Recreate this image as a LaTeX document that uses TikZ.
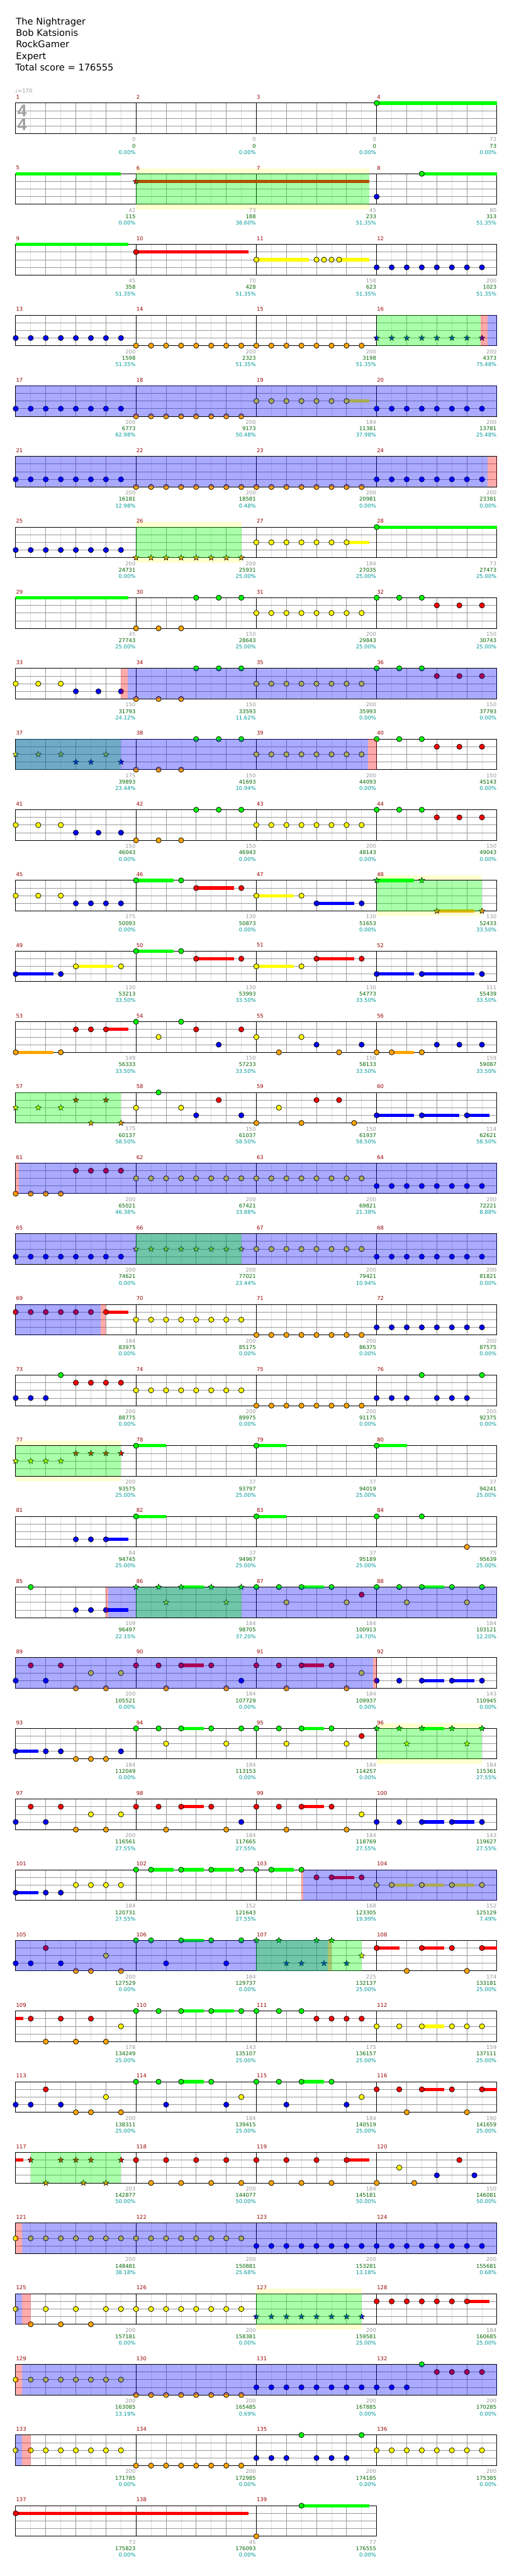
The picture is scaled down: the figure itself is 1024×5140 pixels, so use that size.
\documentclass[tikz,border=0pt]{standalone}
\usepackage{fontspec}
\setmainfont{DejaVu Sans}
\newfontfamily\sigfont{Liberation Sans}
\usetikzlibrary{shapes.geometric}

\definecolor{fretG}{RGB}{0,255,0}
\definecolor{fretR}{RGB}{255,0,0}
\definecolor{fretY}{RGB}{255,255,0}
\definecolor{fretB}{RGB}{0,0,255}
\definecolor{fretO}{RGB}{255,165,0}
\definecolor{hlyellow}{RGB}{255,255,208}
\definecolor{mred}{RGB}{153,0,0}
\definecolor{valgray}{RGB}{153,153,153}
\definecolor{valgreen}{RGB}{0,102,0}
\definecolor{valteal}{RGB}{0,153,153}
\definecolor{eighthgray}{RGB}{221,221,221}
\definecolor{beatgray}{RGB}{153,153,153}

% lane heights (G R Y B O)
\def\laneG{0}\def\laneR{15.25}\def\laneY{30.5}\def\laneB{45.75}\def\laneO{61}
\newcounter{starno}

% staff of #1 measures
\newcommand{\fstaff}[1]{%
  \fill[white] (0,0) rectangle ({240*#1},61);
  \pgfmathtruncatemacro\nlast{8*#1-1}
  \foreach \i in {1,3,...,\nlast} \draw[eighthline] ({30*\i},0) -- ({30*\i},61);
  \foreach \i in {2,4,...,\nlast} \draw[beatline] ({30*\i},0) -- ({30*\i},61);
  \foreach \yy in {15.25,30.5,45.75} \draw[beatline] (0,\yy) -- ({240*#1},\yy);
  \pgfmathtruncatemacro\nbar{#1-1}
  \foreach \i in {1,...,\nbar} \draw[barline] ({240*\i},0) -- ({240*\i},61);
  \draw[barline] (0,0) rectangle ({240*#1},61);}
\newcommand{\fnotes}[2]{\foreach \p in {#2}
  {\filldraw[note, fill=fret#1] ({30*\p},{\csname lane#1\endcsname}) circle[radius=2.6pt];}}
\newcommand{\fstars}[2]{\foreach \p in {#2}
  {\stepcounter{starno}\node[starnote, fill=fret#1] (star\arabic{starno}) at ({30*\p},{\csname lane#1\endcsname}) {};}}
\newcommand{\fsus}[3]{\fill[fret#1] ({30*#2},{\csname lane#1\endcsname-3.25}) rectangle ({30*#3},{\csname lane#1\endcsname+3.25});}
\newcommand{\fover}[3]{\fill[#1, opacity=0.333] ({30*#2},0) rectangle ({30*#3},61);}
\newcommand{\fhl}[2]{\fill[hlyellow] ({30*#1},-10) rectangle ({30*#2},71);}
\newcommand{\flabels}[2]{%
  \foreach \g/\s/\q [count=\k from 0] in {#2} {%
    \pgfmathtruncatemacro\mn{#1+\k}
    \node[mnum] (m\mn) at ({240*\k+0.4},-11.7) {\mn};
    \node[gval] (g\mn) at ({240*\k+239.5},72.7) {\g};
    \node[sval] (s\mn) at ({240*\k+239.5},85.5) {\s};
    \node[pval] (p\mn) at ({240*\k+239.5},98.4) {\q\%};
  }}

\begin{document}
\begin{tikzpicture}[x=0.5pt, y=-0.5pt,
    note/.style={draw=black, line width=0.45pt},
    starnote/.style={star, star points=5, star point ratio=2.3, minimum size=6pt, inner sep=0pt, draw=black, line width=0.35pt},
    eighthline/.style={eighthgray, line width=0.5pt},
    beatline/.style={beatgray, line width=0.5pt},
    barline/.style={black, line width=0.6pt},
    smallnum/.style={inner sep=0pt, font=\fontsize{5.3}{6}\selectfont},
    mnum/.style={smallnum, anchor=west, text=mred},
    gval/.style={smallnum, anchor=east, text=valgray},
    sval/.style={smallnum, anchor=east, text=valgreen},
    pval/.style={smallnum, anchor=east, text=valteal},
    title/.style={inner sep=0pt, anchor=base west, font=\fontsize{9.2}{11}\selectfont},
    timesig/.style={inner sep=0pt, text=black!37, font=\sigfont\bfseries\fontsize{17}{17}\selectfont},
    row/.style={shift={(31.3,{205.7+141*#1})}}
]
\useasboundingbox (0,0) rectangle (1024,5140);

% header
\node[title] (song) at (31.5,49.3) {The Nightrager};
\node[title] (artist) at (31.5,72.3) {Bob Katsionis};
\node[title] (charter) at (31.5,95.3) {RockGamer};
\node[title] (diff) at (31.5,118.3) {Expert};
\node[title] (total) at (30.5,141) {Total score = 176555};
\node[smallnum, anchor=west, text=valgray] (bpm) at (30,181.7) {♩=170};

% measures 1-4
\begin{scope}[row=0]
  \fstaff{4}
  \node[timesig] (sigtop) at (12.7,15.3) {4};
  \node[timesig] (sigbot) at (12.7,43) {4};
  \fsus{G}{24}{32} \fnotes{G}{24}
  \flabels{1}{0/0/0.00, 0/0/0.00, 0/0/0.00, 73/73/0.00}
\end{scope}

% measures 5-8
\begin{scope}[row=1]
  \fhl{8}{23.5}
  \fstaff{4}
  \fsus{G}{0}{7} \fsus{R}{8}{23.5} \fsus{G}{27}{32}
  \fstars{R}{8} \fnotes{B}{24} \fnotes{G}{27}
  \fover{green}{8}{23.5}
  \flabels{5}{42/115/0.00, 73/188/38.60, 45/233/51.35, 80/313/51.35}
\end{scope}

% measures 9-12
\begin{scope}[row=2]
  \fstaff{4}
  \fsus{G}{0}{7.5} \fsus{R}{8}{15.5} \fsus{Y}{16}{19.5} \fsus{Y}{21.5}{23.5}
  \fnotes{R}{8} \fnotes{Y}{16,20,20.5,21,21.5} \fnotes{B}{24,...,31}
  \flabels{9}{45/358/51.35, 70/428/51.35, 158/623/51.35, 200/1023/51.35}
\end{scope}

% measures 13-16
\begin{scope}[row=3]
  \fstaff{4}
  \fnotes{B}{0,...,7} \fnotes{O}{8,...,23} \fstars{B}{24,...,31}
  \fover{green}{24}{30.93} \fover{red}{30.93}{31.37} \fover{blue}{31.37}{32}
  \flabels{13}{200/1598/51.35, 200/2323/51.35, 200/3198/51.35, 200/4373/75.48}
\end{scope}

% measures 17-20
\begin{scope}[row=4]
  \fstaff{4}
  \fsus{Y}{22}{23.5}
  \fnotes{B}{0,...,7} \fnotes{O}{8,...,15} \fnotes{Y}{16,...,22} \fnotes{B}{24,...,31}
  \fover{blue}{0}{32}
  \flabels{17}{200/6773/62.98, 200/9173/50.48, 184/11381/37.98, 200/13781/25.48}
\end{scope}

% measures 21-24
\begin{scope}[row=5]
  \fstaff{4}
  \fnotes{B}{0,...,7} \fnotes{O}{8,...,23} \fnotes{B}{24,...,31}
  \fover{blue}{0}{31.37} \fover{red}{31.37}{32}
  \flabels{21}{200/16181/12.98, 200/18581/0.48, 200/20981/0.00, 200/23381/0.00}
\end{scope}

% measures 25-28
\begin{scope}[row=6]
  \fhl{8}{15}
  \fstaff{4}
  \fsus{Y}{22}{23.5} \fsus{G}{24}{32}
  \fnotes{B}{0,...,7} \fstars{O}{8,...,15} \fnotes{Y}{16,...,22} \fnotes{G}{24}
  \fover{green}{8}{15}
  \flabels{25}{200/24731/0.00, 200/25931/25.00, 184/27035/25.00, 73/27473/25.00}
\end{scope}

% measures 29-32
\begin{scope}[row=7]
  \fstaff{4}
  \fsus{G}{0}{7.5}
  \fnotes{O}{8,9.5,11} \fnotes{G}{12,13.5,15} \fnotes{Y}{16,...,23}
  \fnotes{G}{24,25.5,27} \fnotes{R}{28,29.5,31}
  \flabels{29}{45/27743/25.00, 150/28643/25.00, 200/29843/25.00, 150/30743/25.00}
\end{scope}

% measures 33-36
\begin{scope}[row=8]
  \fstaff{4}
  \fnotes{Y}{0,1.5,3} \fnotes{B}{4,5.5,7} \fnotes{O}{8,9.5,11} \fnotes{G}{12,13.5,15}
  \fnotes{Y}{16,...,23} \fnotes{G}{24,25.5,27} \fnotes{R}{28,29.5,31}
  \fover{red}{7}{7.46} \fover{blue}{7.46}{32}
  \flabels{33}{150/31793/24.12, 150/33593/11.62, 200/35993/0.00, 150/37793/0.00}
\end{scope}

% measures 37-40
\begin{scope}[row=9]
  \fstaff{4}
  \fstars{Y}{0,1.5,3,6} \fstars{B}{4,5,7}
  \fnotes{O}{8,9.5,11} \fnotes{G}{12,13.5,15} \fnotes{Y}{16,...,23}
  \fnotes{G}{24,25.5,27} \fnotes{R}{28,29.5,31}
  \fover{green}{0}{7} \fover{blue}{0}{23.41} \fover{red}{23.41}{24}
  \flabels{37}{175/39893/23.44, 150/41693/10.94, 200/44093/0.00, 150/45143/0.00}
\end{scope}

% measures 41-44
\begin{scope}[row=10]
  \fstaff{4}
  \fnotes{Y}{0,1.5,3} \fnotes{B}{4,5.5,7} \fnotes{O}{8,9.5,11} \fnotes{G}{12,13.5,15}
  \fnotes{Y}{16,...,23} \fnotes{G}{24,25.5,27} \fnotes{R}{28,29.5,31}
  \flabels{41}{150/46043/0.00, 150/46943/0.00, 200/48143/0.00, 150/49043/0.00}
\end{scope}

% measures 45-48
\begin{scope}[row=11]
  \fhl{24}{31}
  \fstaff{4}
  \fsus{G}{8}{10.5} \fsus{R}{12}{14.5} \fsus{Y}{16}{18.5} \fsus{B}{20}{22.5}
  \fsus{G}{24}{26.5} \fsus{O}{28}{30.5}
  \fnotes{Y}{0,1.5,3} \fnotes{B}{4,5,6,7} \fnotes{G}{8,11} \fnotes{R}{12,15}
  \fnotes{Y}{16,19} \fnotes{B}{20,23} \fstars{G}{24,27} \fstars{O}{28,31}
  \fover{green}{24}{31}
  \flabels{45}{175/50093/0.00, 130/50873/0.00, 130/51653/0.00, 130/52433/33.50}
\end{scope}

% measures 49-52
\begin{scope}[row=12]
  \fstaff{4}
  \fsus{B}{0}{2.5} \fsus{Y}{4}{6.5} \fsus{G}{8}{10.5} \fsus{R}{12}{14.5}
  \fsus{Y}{16}{18.5} \fsus{R}{20}{22.5} \fsus{B}{24}{26.5} \fsus{B}{27}{30.5}
  \fnotes{B}{0,3} \fnotes{Y}{4,7} \fnotes{G}{8,11} \fnotes{R}{12,15}
  \fnotes{Y}{16,19} \fnotes{R}{20,23} \fnotes{B}{24,27,31}
  \flabels{49}{130/53213/33.50, 130/53993/33.50, 130/54773/33.50, 111/55439/33.50}
\end{scope}

% measures 53-56
\begin{scope}[row=13]
  \fstaff{4}
  \fsus{O}{0}{2.5} \fsus{R}{6}{7.5} \fsus{O}{25}{26.5}
  \fnotes{O}{0,3} \fnotes{R}{4,5,6}
  \fnotes{G}{8,11} \fnotes{Y}{9.5} \fnotes{R}{12,15} \fnotes{B}{13.5}
  \fnotes{Y}{16,19} \fnotes{O}{17.5,21.5} \fnotes{B}{20,23}
  \fnotes{O}{24,25,27} \fnotes{B}{28,29.5,31}
  \flabels{53}{149/56333/33.50, 150/57233/33.50, 150/58133/33.50, 159/59087/33.50}
\end{scope}

% measures 57-60
\begin{scope}[row=14]
  \fstaff{4}
  \fsus{B}{24}{26.5} \fsus{B}{27}{29.5} \fsus{B}{30}{31.5}
  \fstars{Y}{0,1.5,3} \fstars{R}{4,6} \fstars{O}{5,7}
  \fnotes{Y}{8,11} \fnotes{G}{9.5} \fnotes{B}{12,15} \fnotes{R}{13.5}
  \fnotes{O}{16,19,22.5} \fnotes{Y}{17.5} \fnotes{R}{20,21.5}
  \fnotes{B}{24,27,30}
  \fover{green}{0}{7}
  \flabels{57}{175/60137/58.50, 150/61037/58.50, 150/61937/58.50, 114/62621/58.50}
\end{scope}

% measures 61-64
\begin{scope}[row=15]
  \fstaff{4}
  \fnotes{O}{0,1,2,3} \fnotes{R}{4,5,6,7} \fnotes{Y}{8,...,23} \fnotes{B}{24,...,31}
  \fover{red}{0}{0.22} \fover{blue}{0.22}{32}
  \flabels{61}{200/65021/46.38, 200/67421/33.88, 200/69821/21.38, 200/72221/8.88}
\end{scope}

% measures 65-68
\begin{scope}[row=16]
  \fstaff{4}
  \fnotes{B}{0,...,7} \fstars{Y}{8,...,15} \fnotes{Y}{16,...,23} \fnotes{B}{24,...,31}
  \fover{blue}{0}{32} \fover{green}{8}{15}
  \flabels{65}{200/74621/0.00, 200/77021/23.44, 200/79421/10.94, 200/81821/0.00}
\end{scope}

% measures 69-72
\begin{scope}[row=17]
  \fstaff{4}
  \fsus{R}{6}{7.5}
  \fnotes{R}{0,...,6} \fnotes{Y}{8,...,15} \fnotes{O}{16,...,23} \fnotes{B}{24,...,31}
  \fover{blue}{0}{5.67} \fover{red}{5.67}{6}
  \flabels{69}{184/83975/0.00, 200/85175/0.00, 200/86375/0.00, 200/87575/0.00}
\end{scope}

% measures 73-76
\begin{scope}[row=18]
  \fstaff{4}
  \fnotes{B}{0,1,2} \fnotes{G}{3} \fnotes{R}{4,...,7} \fnotes{Y}{8,...,15}
  \fnotes{O}{16,...,23} \fnotes{B}{24,25,26,28,29,30} \fnotes{G}{27,31}
  \flabels{73}{200/88775/0.00, 200/89975/0.00, 200/91175/0.00, 200/92375/0.00}
\end{scope}

% measures 77-80
\begin{scope}[row=19]
  \fhl{0}{7}
  \fstaff{4}
  \fsus{G}{8}{10} \fsus{G}{16}{18} \fsus{G}{24}{26}
  \fstars{Y}{0,...,3} \fstars{R}{4,...,7} \fnotes{G}{8,16,24}
  \fover{green}{0}{7}
  \flabels{77}{200/93575/25.00, 37/93797/25.00, 37/94019/25.00, 37/94241/25.00}
\end{scope}

% measures 81-84
\begin{scope}[row=20]
  \fstaff{4}
  \fsus{B}{6}{7.5} \fsus{G}{8}{10} \fsus{G}{16}{18}
  \fnotes{B}{4,5,6} \fnotes{G}{8,16,24,27} \fnotes{O}{30}
  \flabels{81}{84/94745/25.00, 37/94967/25.00, 37/95189/25.00, 75/95639/25.00}
\end{scope}

% measures 85-88
\begin{scope}[row=21]
  \fstaff{4}
  \fsus{B}{6}{7.5} \fsus{G}{11}{12.5} \fsus{G}{19}{20.5} \fsus{G}{27}{28.5}
  \fnotes{G}{1} \fnotes{B}{4,5,6}
  \fstars{G}{8,9.5,11,13,15} \fstars{Y}{10,14}
  \fnotes{G}{16,17.5,19,21} \fnotes{Y}{18,22} \fnotes{R}{23}
  \fnotes{G}{24,25.5,27,29,31} \fnotes{Y}{26,30}
  \fover{red}{6}{6.15} \fover{blue}{6.15}{32} \fover{green}{8}{15}
  \flabels{85}{109/96497/22.15, 184/98705/37.20, 184/100913/24.70, 184/103121/12.20}
\end{scope}

% measures 89-92
\begin{scope}[row=22]
  \fstaff{4}
  \fsus{R}{11}{12.5} \fsus{R}{19}{20.5} \fsus{B}{27}{28.5} \fsus{B}{29}{30.5}
  \fnotes{B}{0,2} \fnotes{R}{1,3} \fnotes{O}{4,6} \fnotes{Y}{5,7}
  \fnotes{R}{8,9.5,11,13} \fnotes{O}{10,14} \fnotes{B}{15}
  \fnotes{R}{16,17.5,19,21} \fnotes{O}{18,22} \fnotes{Y}{23}
  \fnotes{B}{24,25.5,27,29,31}
  \fover{blue}{0}{23.78} \fover{red}{23.78}{24}
  \flabels{89}{200/105521/0.00, 184/107729/0.00, 184/109937/0.00, 143/110945/0.00}
\end{scope}

% measures 93-96
\begin{scope}[row=23]
  \fhl{24}{31}
  \fstaff{4}
  \fsus{B}{0}{1.5} \fsus{G}{11}{12.5} \fsus{G}{19}{20.5} \fsus{G}{27}{28.5}
  \fnotes{B}{0,2,3,7} \fnotes{O}{4,5,6}
  \fnotes{G}{8,9.5,11,13,15} \fnotes{Y}{10,14}
  \fnotes{G}{16,17.5,19,21} \fnotes{Y}{18,22} \fnotes{R}{23}
  \fstars{G}{24,25.5,27,29,31} \fstars{Y}{26,30}
  \fover{green}{24}{31}
  \flabels{93}{184/112049/0.00, 184/113153/0.00, 184/114257/0.00, 184/115361/27.55}
\end{scope}

% measures 97-100
\begin{scope}[row=24]
  \fstaff{4}
  \fsus{R}{11}{12.5} \fsus{R}{19}{20.5} \fsus{B}{27}{28.5} \fsus{B}{29}{30.5}
  \fnotes{B}{0,2} \fnotes{R}{1,3} \fnotes{O}{4,6} \fnotes{Y}{5,7}
  \fnotes{R}{8,9.5,11,13} \fnotes{O}{10,14} \fnotes{B}{15}
  \fnotes{R}{16,17.5,19,21} \fnotes{O}{18,22} \fnotes{Y}{23}
  \fnotes{B}{24,25.5,27,29,31}
  \flabels{97}{200/116561/27.55, 184/117665/27.55, 184/118769/27.55, 143/119627/27.55}
\end{scope}

% measures 101-104
\begin{scope}[row=25]
  \fstaff{4}
  \fsus{B}{0}{1.5} \fsus{G}{9}{10.5} \fsus{G}{11}{12.5} \fsus{G}{13}{14.5}
  \fsus{G}{17}{18.5} \fsus{R}{21}{22.5}
  \fsus{Y}{25}{26.5} \fsus{Y}{27}{28.5} \fsus{Y}{29}{30.5}
  \fnotes{B}{0,2,3} \fnotes{Y}{4,...,7} \fnotes{G}{8,9,11,13,15}
  \fnotes{G}{16,17,19} \fnotes{R}{20,21,23} \fnotes{Y}{24,25,27,29,31}
  \fover{red}{18.98}{19.1} \fover{blue}{19.1}{32}
  \flabels{101}{184/120731/27.55, 152/121643/27.55, 168/123305/19.99, 152/125129/7.49}
\end{scope}

% measures 105-108
\begin{scope}[row=26]
  \fstaff{4}
  \fsus{G}{11}{12.5} \fsus{R}{24}{25.5} \fsus{R}{27}{28.5} \fsus{R}{31}{32}
  \fnotes{B}{0,1,3} \fnotes{R}{2} \fnotes{O}{4,5,7} \fnotes{Y}{6}
  \fnotes{G}{8,9,11,13,15} \fnotes{B}{10,14}
  \fstars{G}{16,17.5,20,21} \fstars{B}{18,19,20.5,22} \fstars{Y}{23}
  \fnotes{R}{24,27,29,31} \fnotes{O}{26,30}
  \fover{blue}{0}{20.74} \fover{red}{20.74}{20.98} \fover{green}{16}{23}
  \flabels{105}{200/127529/0.00, 184/129737/0.00, 225/132137/25.00, 174/133181/25.00}
\end{scope}

% measures 109-112
\begin{scope}[row=27]
  \fstaff{4}
  \fsus{R}{0}{0.5} \fsus{G}{11}{12.5} \fsus{G}{13}{14.5} \fsus{Y}{27}{28.5}
  \fnotes{R}{1,3,5} \fnotes{O}{2,4,6} \fnotes{Y}{7}
  \fnotes{G}{8,9.5,11,13,15} \fnotes{G}{16,17.5,19} \fnotes{R}{20,...,23}
  \fnotes{Y}{24,25.5,27,29,30,31}
  \flabels{109}{178/134249/25.00, 143/135107/25.00, 175/136157/25.00, 159/137111/25.00}
\end{scope}

% measures 113-116
\begin{scope}[row=28]
  \fstaff{4}
  \fsus{G}{11}{12.5} \fsus{G}{19}{20.5} \fsus{R}{27}{28.5} \fsus{R}{31}{32}
  \fnotes{B}{0,1,3} \fnotes{R}{2} \fnotes{O}{4,5,7} \fnotes{Y}{6}
  \fnotes{G}{8,9.5,11,13} \fnotes{B}{10,14} \fnotes{Y}{15}
  \fnotes{G}{16,17.5,19,21} \fnotes{B}{18,22} \fnotes{Y}{23}
  \fnotes{R}{24,25.5,27,29,31} \fnotes{O}{26,30}
  \flabels{113}{200/138311/25.00, 184/139415/25.00, 184/140519/25.00, 190/141659/25.00}
\end{scope}

% measures 117-120
\begin{scope}[row=29]
  \fstaff{4}
  \fsus{R}{0}{0.5} \fsus{R}{22}{23.5}
  \fstars{R}{1,3,4,5,7} \fstars{O}{2,4.5,6}
  \fnotes{R}{8,10,12,14} \fnotes{O}{9,11,13,15}
  \fnotes{R}{16,18,20,22} \fnotes{O}{17,19,21}
  \fnotes{O}{24,26.5} \fnotes{Y}{25.5} \fnotes{R}{29.5} \fnotes{B}{28,30.5}
  \fover{green}{1}{7}
  \flabels{117}{203/142877/50.00, 200/144077/50.00, 184/145181/50.00, 150/146081/50.00}
\end{scope}

% measures 121-124
\begin{scope}[row=30]
  \fstaff{4}
  \fnotes{Y}{0,...,15} \fnotes{B}{16,...,31}
  \fover{red}{0}{0.43} \fover{blue}{0.43}{32}
  \flabels{121}{200/148481/38.18, 200/150881/25.68, 200/153281/13.18, 200/155681/0.68}
\end{scope}

% measures 125-128
\begin{scope}[row=31]
  \fhl{16}{23}
  \fstaff{4}
  \fsus{R}{30}{31.5}
  \fnotes{Y}{0,2,4,6,7} \fnotes{O}{1,3,5} \fnotes{Y}{8,...,15}
  \fstars{B}{16,...,23} \fnotes{R}{24,...,30}
  \fover{blue}{0}{0.43} \fover{red}{0.43}{1} \fover{green}{16}{23}
  \flabels{125}{200/157181/0.00, 200/158381/0.00, 200/159581/25.00, 184/160685/25.00}
\end{scope}

% measures 129-132
\begin{scope}[row=32]
  \fstaff{4}
  \fnotes{Y}{0,...,7} \fnotes{O}{8,...,15} \fnotes{B}{16,...,26} \fnotes{G}{27}
  \fnotes{R}{28,...,31}
  \fover{red}{0}{0.43} \fover{blue}{0.43}{32}
  \flabels{129}{200/163085/13.19, 200/165485/0.69, 200/167885/0.00, 200/170285/0.00}
\end{scope}

% measures 133-136
\begin{scope}[row=33]
  \fstaff{4}
  \fnotes{Y}{0,...,7} \fnotes{O}{8,...,15} \fnotes{B}{16,17,18,20,21,22} \fnotes{G}{19,23}
  \fnotes{Y}{24,...,31}
  \fover{blue}{0}{0.43} \fover{red}{0.43}{1}
  \flabels{133}{200/171785/0.00, 200/172985/0.00, 200/174185/0.00, 200/175385/0.00}
\end{scope}

% measures 137-139
\begin{scope}[row=34]
  \fstaff{3}
  \fsus{R}{0}{15.5} \fsus{G}{19}{23.5}
  \fnotes{R}{0} \fnotes{O}{16} \fnotes{G}{19}
  \flabels{137}{73/175823/0.00, 45/176093/0.00, 77/176555/0.00}
\end{scope}
\end{tikzpicture}
\end{document}
